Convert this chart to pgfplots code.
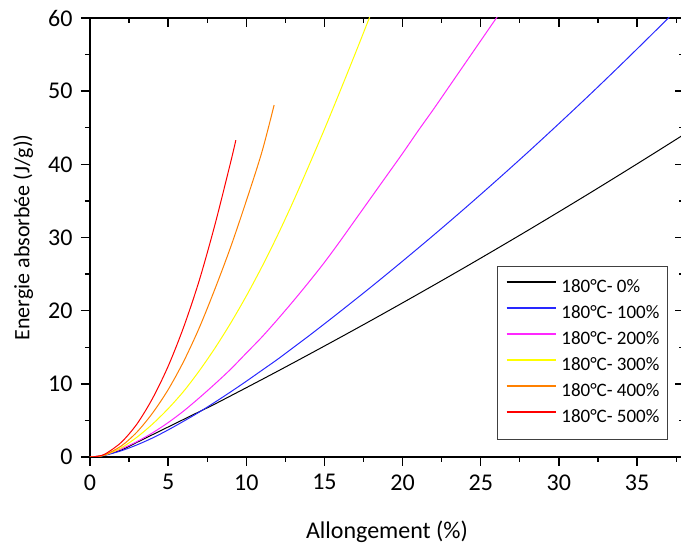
\documentclass[border=0pt]{standalone}
\usepackage{fontspec}
\setmainfont{Carlito}
\usepackage{pgfplots}
\pgfplotsset{compat=1.18}
\definecolor{cOrange}{RGB}{255,128,0}
\definecolor{cBlue}{RGB}{40,40,255}
\definecolor{cMag}{RGB}{255,40,255}
\definecolor{cYel}{RGB}{255,255,0}
\begin{document}
\begin{tikzpicture}
\pgfplotsset{
  common/.style={
    scale only axis, width=593.94pt, height=439pt,
    xmin=0, xmax=38, ymin=0, ymax=60,
    xtick={0,5,...,35}, minor xtick={2.5,7.5,...,37.5},
    ytick={0,10,...,60}, minor ytick={5,15,...,55},
    major tick length=9pt, minor tick length=5pt,
    axis line style={line width=1.6pt},
    major tick style={line width=1.4pt, black},
    minor tick style={line width=1.2pt, black},
  }
}
\begin{axis}[common,
  xtick pos=top, ytick pos=right, tick align=inside,
  xticklabels={}, yticklabels={}]
\end{axis}
\begin{axis}[common,
  xtick pos=bottom, ytick pos=left, tick align=outside,
  /pgf/number format/assume math mode=true,
  tick label style={font=\fontsize{24}{28}\selectfont},
  xticklabel style={yshift=-5pt},
  yticklabel style={xshift=-5pt},
  xlabel={Allongement (\%)}, ylabel={Energie absorbée (J/g))},
  xlabel style={font=\fontsize{24}{28}\selectfont, yshift=-24pt},
  ylabel style={font=\fontsize{22}{26}\selectfont, yshift=8pt},
  legend style={at={(axis cs:36.97,26.1)}, anchor=north east,
    draw=black!75, line width=0.8pt, font=\fontsize{19}{22}\selectfont,
    inner xsep=8pt, inner ysep=12pt, row sep=7pt,
    nodes={inner sep=0pt, text height=14pt, text depth=5pt},
    /tikz/every odd column/.append style={column sep=5pt}},
  legend cell align=left,
  legend image code/.code={\draw[#1, line width=1.5pt] (0pt,6pt) -- (49pt,6pt);},
  every axis plot/.append style={line width=1pt, smooth},
]
\addplot[color=black] coordinates {(0,0) (0.5,0.1) (1,0.3) (2,0.95) (3,2.0) (4,3.05) (5,4.1) (6,5.15) (7,6.2) (8,7.25) (10,9.47) (12,11.72) (14,14.01) (16,16.33) (18,18.68) (20,21.07) (22,23.49) (24,25.94) (26,28.43) (28,30.95) (30,33.51) (32,36.10) (34,38.73) (36,41.39) (38,44.08)};
\addlegendentry{180°C- 0\%}
\addplot[color=cBlue] coordinates {(0,0) (0.5,0.06) (1,0.25) (2,0.85) (3,1.65) (4,2.6) (5,3.7) (6,4.9) (7,6.15) (8,7.5) (9,8.9) (10,10.35) (11,11.85) (12,13.35) (13,14.95) (14,16.55) (15,18.2) (16,19.87) (18,23.27) (20,26.77) (22,30.35) (24,34.02) (26,37.78) (28,41.62) (30,45.56) (32,49.57) (34,53.68) (36,57.87) (37,60.0) (37.5,61.1)};
\addlegendentry{180°C- 100\%}
\addplot[color=cMag] coordinates {(0,0) (0.5,0.1) (1,0.35) (2,1.1) (3,2.1) (4,3.3) (5,4.7) (6,6.3) (7,8.1) (8,10.0) (9,12.0) (10,14.2) (11,16.4) (12,18.8) (13,21.3) (14,23.9) (15,26.6) (16,29.5) (17,32.5) (18,35.5) (19,38.5) (20,41.5) (21,44.6) (22,47.6) (23,50.7) (24,53.8) (25,56.9) (26,60.0) (26.4,61.2)};
\addlegendentry{180°C- 200\%}
\addplot[color=cYel] coordinates {(0,0) (0.5,0.08) (1,0.3) (2,1.25) (3,2.7) (4,4.5) (5,6.6) (6,9.0) (7,11.8) (8,14.9) (9,18.3) (10,22.0) (11,26.0) (12,30.3) (13,34.9) (14,39.8) (15,44.8) (16,50.0) (17,55.3) (18,60.7)};
\addlegendentry{180°C- 300\%}
\addplot[color=cOrange] coordinates {(0,0) (0.5,0.08) (1,0.35) (2,1.5) (3,3.4) (4,6.0) (5,9.2) (6,13.1) (7,17.7) (8,23.0) (9,28.7) (10,35.0) (11,41.7) (11.78,48.1)};
\addlegendentry{180°C- 400\%}
\addplot[color=red] coordinates {(0,0) (0.5,0.1) (1,0.45) (2,2.0) (3,4.5) (4,8.0) (5,12.4) (6,17.8) (7,24.2) (8,31.8) (9,40.3) (9.33,43.3)};
\addlegendentry{180°C- 500\%}
\end{axis}
\pgfresetboundingbox
\path[use as bounding box] (-90pt,-88pt) rectangle (591pt,457pt);
\end{tikzpicture}
\end{document}
